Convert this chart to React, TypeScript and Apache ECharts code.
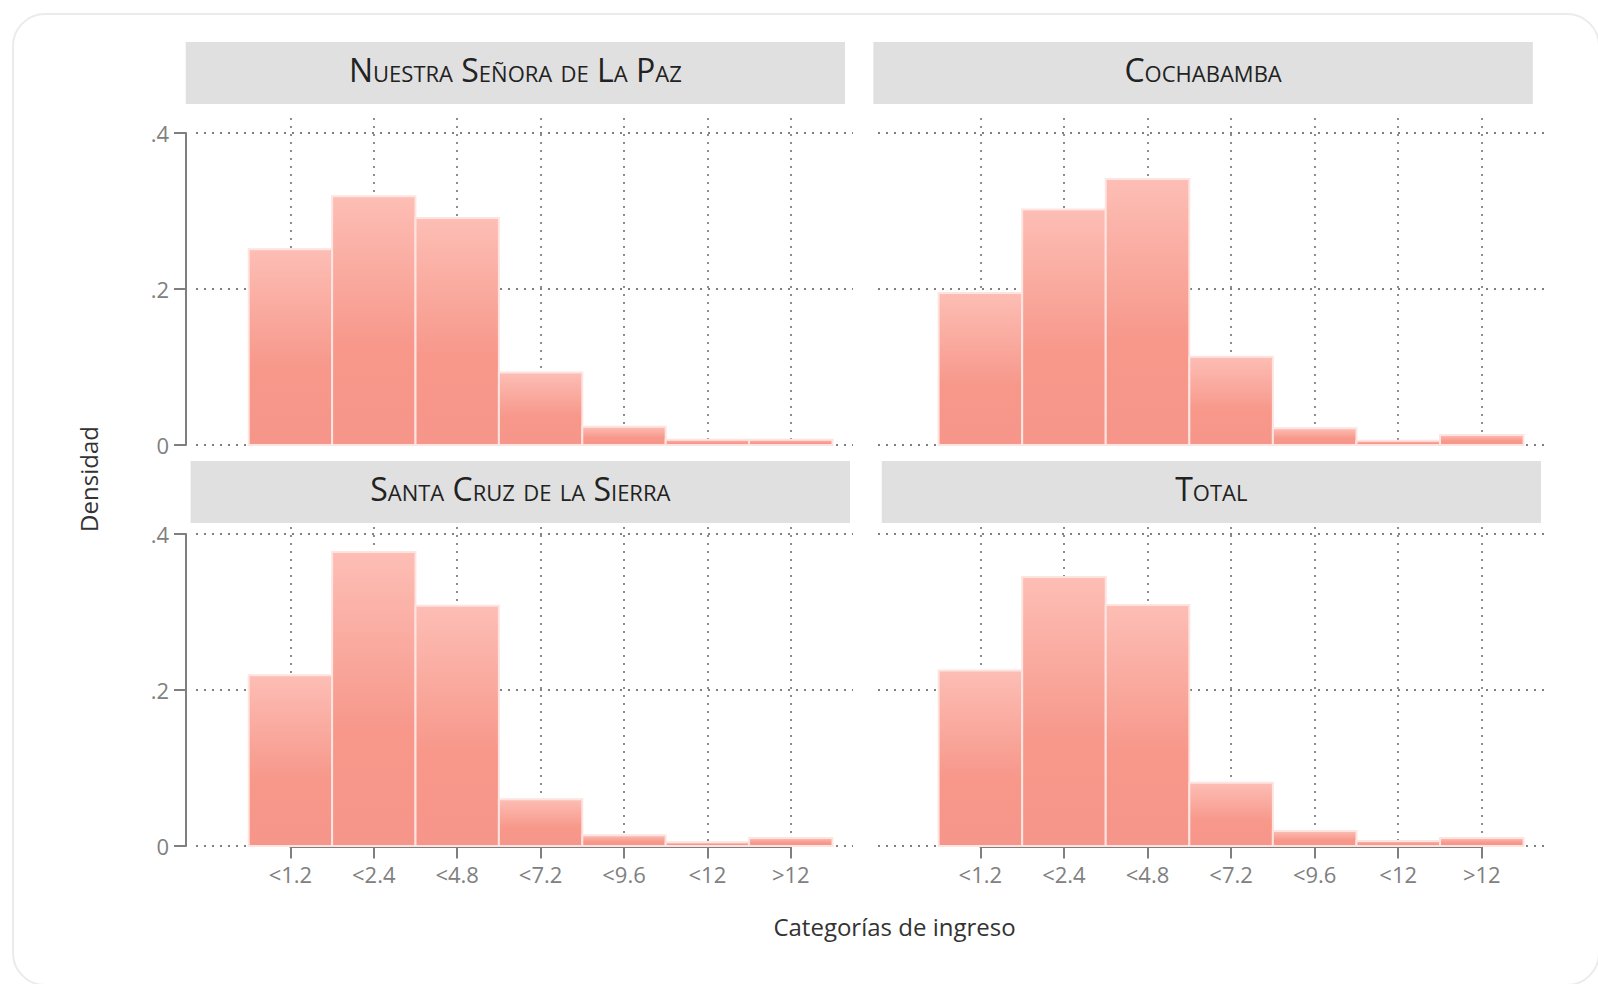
import React, { useEffect, useRef } from 'react';
import * as echarts from 'echarts';

// ---------- data ----------
const categories = ['<1.2', '<2.4', '<4.8', '<7.2', '<9.6', '<12', '>12'];
const panelTitles = ['Nuestra Señora de La Paz', 'Cochabamba', 'Santa Cruz de la Sierra', 'Total'];
const lapazValues = [0.251, 0.319, 0.291, 0.093, 0.0235, 0.0068, 0.0068];
const cochabambaValues = [0.195, 0.302, 0.341, 0.113, 0.0214, 0.0056, 0.0128];
const santaCruzValues = [0.219, 0.377, 0.308, 0.060, 0.0137, 0.0047, 0.0103];
const totalValues = [0.225, 0.345, 0.309, 0.081, 0.0193, 0.0064, 0.0103];
const yTickValues = [0, 0.2, 0.4];
const yTickLabels = ['0', '.2', '.4'];
const xAxisTitle = 'Categorías de ingreso';
const yAxisTitle = 'Densidad';

const panelValues = [lapazValues, cochabambaValues, santaCruzValues, totalValues];
const catPositions = categories.map((_, i) => i + 1);

// ---------- layout ----------
const FONT = 'Open Sans';
const GRID_COLOR = '#808080';
const AXIS_COLOR = '#7f7f7f';
const Y_MAX = 0.4 * 327 / 312;

const panels = [
  { left: 196, width: 657, top: 118, height: 327, xMin: -0.132, xMax: 7.746, strip: { x: 185.7, y: 42, w: 659.3, h: 62 } },
  { left: 878, width: 667, top: 118, height: 327, xMin: -0.225, xMax: 7.756, strip: { x: 873.4, y: 42, w: 659.4, h: 62 } },
  { left: 196, width: 657, top: 519, height: 327, xMin: -0.132, xMax: 7.746, strip: { x: 190.6, y: 461, w: 659.4, h: 62 } },
  { left: 878, width: 667, top: 519, height: 327, xMin: -0.225, xMax: 7.756, strip: { x: 881.7, y: 461, w: 659.3, h: 62 } },
];

function tickX(p: typeof panels[number], v: number) {
  return p.left + ((v - p.xMin) * p.width) / (p.xMax - p.xMin);
}

function makeFill() {
  return new echarts.graphic.LinearGradient(0, 0, 0, 1, [
    { offset: 0, color: '#fdbeb5' },
    { offset: 0.6, color: '#f7988b' },
    { offset: 1, color: '#f6968a' },
  ]);
}

function buildOption() {
  const grids: any[] = [];
  const xAxes: any[] = [];
  const yAxes: any[] = [];
  const series: any[] = [];
  const dotted = { color: GRID_COLOR, width: 1.8, type: [2, 6] };

  panels.forEach((p, i) => {
    grids.push({ left: p.left, top: p.top, width: p.width, height: p.height, containLabel: false });
    xAxes.push({
      gridIndex: i, type: 'value', min: p.xMin, max: p.xMax,
      axisLine: { show: false },
      axisTick: { show: false, customValues: catPositions },
      axisLabel: { show: false, customValues: catPositions },
      splitLine: { show: true, lineStyle: dotted },
    });
    yAxes.push({
      gridIndex: i, type: 'value', min: 0, max: Y_MAX,
      axisLine: { show: false },
      axisTick: { show: false, customValues: yTickValues },
      axisLabel: { show: false, customValues: yTickValues },
      splitLine: { show: true, lineStyle: dotted },
    });
    series.push({
      type: 'custom',
      xAxisIndex: i,
      yAxisIndex: i,
      z: 3,
      clip: false,
      data: panelValues[i].map((v, k) => [catPositions[k], v]),
      renderItem: (_params: any, api: any) => {
        const c = api.value(0);
        const v = api.value(1);
        const p0 = api.coord([c - 0.5, v]);
        const p1 = api.coord([c + 0.5, 0]);
        return {
          type: 'rect',
          shape: { x: p0[0], y: p0[1], width: p1[0] - p0[0], height: p1[1] - p0[1] },
          style: { fill: makeFill(), stroke: '#fde4e0', lineWidth: 2 },
        };
      },
    });
  });

  // x-axis-only grids (bottom panels)
  [2, 3].forEach((pi) => {
    const p = panels[pi];
    const x1 = tickX(p, 1);
    const x7 = tickX(p, 7);
    const gi = grids.length;
    grids.push({ left: x1, top: 836, width: x7 - x1, height: 10.5, containLabel: false });
    xAxes.push({
      gridIndex: gi, type: 'category', data: categories, boundaryGap: false,
      axisLine: { onZero: false, lineStyle: { color: AXIS_COLOR, width: 2 } },
      axisTick: { length: 12, lineStyle: { color: AXIS_COLOR, width: 2 } },
      axisLabel: { interval: 0, color: '#808080', fontSize: 22, fontFamily: FONT, margin: 16 },
      splitLine: { show: false },
    });
    yAxes.push({ gridIndex: gi, type: 'value', min: 0, max: 1, show: false });
  });

  // y-axis-only grids (left panels)
  [445, 846].forEach((zeroY) => {
    const gi = grids.length;
    grids.push({ left: 186, top: zeroY - 312, width: 20, height: 312, containLabel: false });
    xAxes.push({ gridIndex: gi, type: 'value', min: 0, max: 1, show: false });
    yAxes.push({
      gridIndex: gi, type: 'value', min: 0, max: 0.4, interval: 0.2,
      axisLine: { show: true, onZero: false, lineStyle: { color: AXIS_COLOR, width: 2 } },
      axisTick: { show: true, length: 12, lineStyle: { color: AXIS_COLOR, width: 2 } },
      axisLabel: {
        color: '#808080', fontSize: 22, fontFamily: FONT, margin: 17,
        formatter: (v: number) => {
          const idx = yTickValues.findIndex((t) => Math.abs(t - v) < 1e-6);
          return idx >= 0 ? yTickLabels[idx] : '';
        },
      },
      splitLine: { show: false },
    });
  });

  const graphics: any[] = [
    {
      type: 'rect', z: 0,
      shape: { x: 13, y: 14, width: 1586, height: 971, r: 32 },
      style: { fill: 'none', stroke: '#ebebeb', lineWidth: 2 },
    },
  ];
  panels.forEach((p, i) => {
    graphics.push({
      type: 'rect', z: 10,
      shape: { x: p.strip.x, y: p.strip.y, width: p.strip.w, height: p.strip.h },
      style: { fill: '#e0e0e0' },
    });
    graphics.push({
      type: 'text', z: 11,
      x: p.strip.x + p.strip.w / 2,
      y: p.strip.y + 27.5,
      style: {
        text: panelTitles[i],
        font: 'small-caps 400 32px "Open Sans"',
        fill: '#222222',
        align: 'center', verticalAlign: 'middle',
        textAlign: 'center', textVerticalAlign: 'middle',
      },
    });
  });
  graphics.push({
    type: 'text', z: 11, x: 894.5, y: 926,
    style: {
      text: xAxisTitle, font: '400 24px "Open Sans"', fill: '#333333',
      align: 'center', verticalAlign: 'middle', textAlign: 'center', textVerticalAlign: 'middle',
    },
  });
  graphics.push({
    type: 'text', z: 11, x: 88, y: 479, rotation: Math.PI / 2,
    style: {
      text: yAxisTitle, font: '400 24px "Open Sans"', fill: '#333333',
      align: 'center', verticalAlign: 'middle', textAlign: 'center', textVerticalAlign: 'middle',
    },
  });

  return {
    animation: false,
    backgroundColor: '#ffffff',
    grid: grids,
    xAxis: xAxes,
    yAxis: yAxes,
    series,
    graphic: { elements: graphics },
  };
}

export default function App() {
  const ref = useRef<HTMLDivElement>(null);
  useEffect(() => {
    if (!ref.current) return;
    const chart = echarts.init(ref.current, undefined, { renderer: 'svg' });
    chart.setOption(buildOption() as any);
    return () => chart.dispose();
  }, []);
  return (
    <div
      ref={ref}
      style={{ position: 'fixed', left: 0, top: 0, width: 1598, height: 984, background: '#fff' }}
    />
  );
}
